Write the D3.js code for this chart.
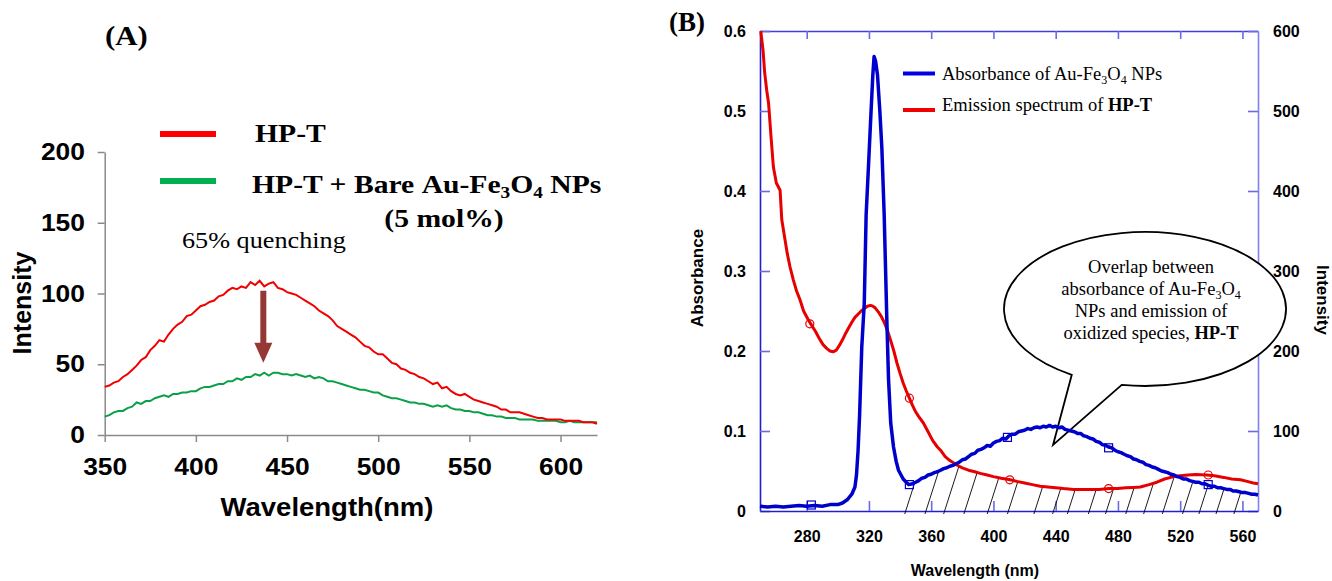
<!DOCTYPE html>
<html><head><meta charset="utf-8">
<script src="https://cdn.jsdelivr.net/npm/d3@7"></script>
<style>body{margin:0;background:#fff;overflow:hidden}</style>
</head><body>
<svg id="c" width="1332" height="581" xmlns="http://www.w3.org/2000/svg"></svg>
<script>
// ---------------- Panel A data ----------------
const aWavelength = [350,352.5,355,357.5,360,362.5,365,367.5,370,372.5,375,377.5,380,382.5,385,387.5,390,392.5,395,397.5,400,402.5,405,407.5,410,412.5,415,417.5,420,422.5,425,427.5,430,432.5,435,437.5,440,442.5,445,447.5,450,452.5,455,457.5,460,462.5,465,467.5,470,472.5,475,477.5,480,482.5,485,487.5,490,492.5,495,497.5,500,502.5,505,507.5,510,512.5,515,517.5,520,522.5,525,527.5,530,532.5,535,537.5,540,542.5,545,547.5,550,552.5,555,557.5,560,562.5,565,567.5,570,572.5,575,577.5,580,582.5,585,587.5,590,592.5,595,597.5,600,602.5,605,607.5,610,612.5,615,617.5,620];
const aHPT = [34,35,37,38,41,43,46,49,53,55, 60,63,67,66,71,75,78,80,84,85, 88,91,92,94,95,98,99,102,104,103, 105,104,108,106,109,105,107,108,104,103, 101,100,99,97,95,93,91,88,86,84, 81,77,75,73,71,69,66,63,62,59, 57,57,54,51,50,47,46,44,43,41, 40,38,36,37,33,34,31,29,28,29, 27,25,24,23,22,21,20,18,18,16, 16,16,15,14,13,12,12,11,11,11, 11,10,10,10,10,9,9,9,8];
const aHPTNP = [13,14,16,17,17,19,20,23,22,24, 24,26,27,28,27,29,29,30,30,31, 31,33,34,34,35,36,36,38,38,40, 39,41,41,43,42,44,42,44,44,43, 43,42,43,42,41,42,40,41,40,38, 38,37,36,35,34,33,32,32,31,30, 30,28,27,26,26,25,24,23,23,22, 22,21,20,21,20,21,19,18,18,17, 17,16,16,15,14,14,13,13,12,12, 12,11,11,11,11,10,10,10,10,10, 9,9,10,9,9,9,9,9,9];
const aTicksX = [350,400,450,500,550,600];
const aTicksY = [0,50,100,150,200];
const aArrow = {wl: 437, from: 102, to: 51};

// ---------------- Panel B data ----------------
const absWl = [250,255,260,265,270,275,280,285,290,295,300,303,306,309,311,312,313,314,315.4,317,318.2,319.8,321.3,322.5,323.3,324.3,325.5,327,328.3,329.8,331.5,332.6,334,335.8,337.5,339,342,345.5,348,350,352,354,356,358,360,362,364,366,368,370,372,374,376,378,380,382,384,386,388,390,392,394,396,398,400,402,404,406,408,410,412,414,416,418,420,422,424,426,428,430,432,434,436,438,440,442,444,446,448,450,452,454,456,458,460,462,464,466,468,470,472,474,476,478,480,482,484,486,488,490,492,494,496,498,500,502,504,506,508,510,512,514,516,518,520,522,524,526,528,530,532,534,536,538,540,542,544,546,548,550,552,554,556,558,560,562,564,566,568,570];
const absVal = [.006,.005,.006,.005,.006,.007,.006,.007,.006,.008,.008,.010,.014,.021,.030,.045,.075,.12,.205,.26,.37,.435,.497,.545,.568,.562,.545,.50,.454,.37,.239,.164,.11,.08,.062,.051,.040,.033,.034,.036,.038,.041,.042,.045,.046,.048,.049,.051,.053,.054,.056,.057,.059,.061,.064,.065,.068,.071,.072,.076,.077,.079,.082,.081,.085,.087,.088,.091,.090,.094,.096,.096,.099,.100,.101,.103,.102,.104,.105,.104,.106,.105,.107,.105,.106,.104,.105,.102,.101,.100,.099,.097,.097,.094,.093,.091,.090,.087,.086,.083,.082,.080,.079,.076,.074,.073,.071,.069,.068,.065,.064,.062,.061,.058,.057,.055,.054,.052,.050,.049,.048,.046,.045,.043,.042,.040,.040,.038,.037,.036,.036,.034,.034,.032,.031,.031,.029,.029,.028,.027,.027,.025,.025,.024,.023,.023,.022,.021,.021,.020];
const emWl = [250.5,252,253,254.3,255.5,257,258.6,260.5,262.9,264,266,267.5,269.3,271.4,273.5,275.7,278,281,283.2,285.5,288,290.5,293,295,297,299,301,303,305,307,309,311,313,315,317,319,321,322.5,324,326,328,330,332,334,336,338,340,342,344,346,348,350,352,355,358,361,364,366,369,372,376.5,380,384,388,391.5,396,400,405,410.8,415,420,425,430,435,440,445,451.5,457,462,468,474,480,485,490,494.4,500,505,510,515.8,520,525,530,537,542,548,553,558.7,563,567,570];
const emVal = [600,575,548,526,510,470,430,410,401,364,340,322,305,289,275,264,250,239,232,225,216,208,203,200,199,201,207,214,222,229,236,242,246,250,253,256,257,256,254,249,243,235,225,213,200,185,172,160,150,141,132,124,118,110,99,88,80,76,68,63,57.5,54,51,49,47,45,43,41,39,37,35,33,31,30,29,28,27,27,27,27,28,28,29,29.5,30,33,36,40,43,44,45,45.5,45,44,42,40,39,37,35,34];
const absMarkWl = [283,346,409,474,538];
const absMarkVal = [.0075,.033,.092,.079,.033];
const emMarkWl = [282,346,410.5,474,538];
const emMarkVal = [234,141,39,28,45];
const hatchWl = [343,356,368,381,396,409,426,438,447.5,461,472,485,496.5,508.5,521.5,532,543,554.5];
const bTicksX = [280,320,360,400,440,480,520,560];
const bTicksLeft = [0,0.1,0.2,0.3,0.4,0.5,0.6];
const bTicksRight = [0,100,200,300,400,500,600];
const bubble = {wl: 497.4, abs: 0.2525, rx: 141, ry: 77, angL: 121.3, angR: 99.5, tipWl: 438.3, tipAbs: 0.0825};

// ---------------- drawing ----------------
const svg = d3.select('#c');
const ARIAL = "'Liberation Sans', Arial, sans-serif";
const TIMES = "'Liberation Serif', 'Times New Roman', serif";

// appends "Au-Fe3O4" then the following text on the normal baseline
function feO(t, size, after){
  t.append('tspan').text('Au-Fe');
  t.append('tspan').attr('font-size', size*0.65).attr('dy', size*0.2).text('3');
  t.append('tspan').attr('dy', -size*0.2).text('O');
  t.append('tspan').attr('font-size', size*0.65).attr('dy', size*0.2).text('4');
  t.append('tspan').attr('dy', -size*0.2).text(after);
}

// ===== Panel A =====
const SX = 1.14;   // panel A text is horizontally wide in the reference
const SXA = 1.1;
const xA = d3.scaleLinear().domain([350,620]).range([104.7,597]);
const yA = d3.scaleLinear().domain([0,200]).range([435,152]);
const gA = svg.append('g');
const gray = '#8a8a8a';

const axA_x = gA.append('g').attr('transform','translate(0,435)')
  .call(d3.axisBottom(xA).tickValues(aTicksX).tickSize(7).tickPadding(16).tickSizeOuter(0));
const axA_y = gA.append('g').attr('transform','translate(104.7,0)')
  .call(d3.axisLeft(yA).tickValues(aTicksY).tickSize(7).tickPadding(11).tickSizeOuter(0));
[axA_x, axA_y].forEach(a=>{
  a.select('.domain').attr('stroke', gray).attr('stroke-width',1.5);
  a.selectAll('.tick line').attr('stroke', gray).attr('stroke-width',1.5);
  a.selectAll('.tick text').attr('fill','#000').attr('font-family',ARIAL).attr('font-weight','bold').attr('font-size',24)
    .attr('transform',`scale(${SXA},1)`);
});
gA.append('text').attr('transform',`translate(327,516) scale(${SXA},1)`).attr('text-anchor','middle')
  .attr('font-family',ARIAL).attr('font-weight','bold').attr('font-size',25).text('Wavelength(nm)');
gA.append('text').attr('transform','translate(31,303) rotate(-90)').attr('text-anchor','middle')
  .attr('font-family',ARIAL).attr('font-weight','bold').attr('font-size',25).text('Intensity');

const lineA = d3.line().x((d,i)=>xA(aWavelength[i])).y(d=>yA(d));
gA.append('path').datum(aHPTNP).attr('d',lineA).attr('fill','none').attr('stroke','#0aa04a').attr('stroke-width',2);
gA.append('path').datum(aHPT).attr('d',lineA).attr('fill','none').attr('stroke','#f00000').attr('stroke-width',2);

// arrow
{
  const x0 = xA(aArrow.wl), y0 = yA(aArrow.from), y1 = yA(aArrow.to);
  const hh = 20, hw = 9, sw = 3;
  gA.append('path').attr('fill','#953735')
    .attr('d',`M${x0-sw},${y0} L${x0+sw},${y0} L${x0+sw},${y1-hh} L${x0+hw},${y1-hh} L${x0},${y1} L${x0-hw},${y1-hh} L${x0-sw},${y1-hh} Z`);
}
const stretched = (x,y) => `translate(${x},${y}) scale(${SX},1)`;
gA.append('text').attr('transform',stretched(182,248)).attr('font-family',TIMES).attr('font-size',23).text('65% quenching');
// legend A
gA.append('text').attr('transform',stretched(105,45)).attr('font-family',TIMES).attr('font-weight','bold').attr('font-size',27).text('(A)');
gA.append('line').attr('x1',160).attr('x2',216).attr('y1',134).attr('y2',134).attr('stroke','#ff0000').attr('stroke-width',6);
gA.append('line').attr('x1',160).attr('x2',216).attr('y1',181).attr('y2',181).attr('stroke','#00b050').attr('stroke-width',6);
gA.append('text').attr('transform',stretched(255,142)).attr('font-family',TIMES).attr('font-weight','bold').attr('font-size',26).text('HP-T');
{
  const t = gA.append('text').attr('transform',stretched(252,193)).attr('font-family',TIMES).attr('font-weight','bold').attr('font-size',26);
  t.append('tspan').text('HP-T + Bare ');
  feO(t, 26, ' NPs');
}
gA.append('text').attr('transform',stretched(444,227)).attr('text-anchor','middle').attr('font-family',TIMES).attr('font-weight','bold').attr('font-size',26).text('(5 mol%)');

// ===== Panel B =====
const xB = d3.scaleLinear().domain([250,570]).range([760,1258]);
const yB = d3.scaleLinear().domain([0,0.6]).range([511,31]);
const yB2 = d3.scaleLinear().domain([0,600]).range([511,31]);
const gB = svg.append('g');
const blueDark = '#2020cc', blueLight = '#8080f0', tickBlue = '#6a6ae6';

function styleAx(a, domainColor, showText){
  a.select('.domain').attr('stroke', domainColor).attr('stroke-width',1.6);
  a.selectAll('.tick line').attr('stroke', tickBlue).attr('stroke-width',1.6);
  a.selectAll('.tick text').attr('fill','#000').attr('font-family',ARIAL).attr('font-weight','bold').attr('font-size',16);
  if(!showText) a.selectAll('.tick text').remove();
}
styleAx(gB.append('g').attr('transform','translate(0,31)').call(d3.axisTop(xB).tickValues(bTicksX).tickSize(-8).tickSizeOuter(0)), '#4040d8', false);
styleAx(gB.append('g').attr('transform','translate(1258,0)').call(d3.axisRight(yB2).tickValues(bTicksRight).tickSize(-10).tickPadding(15).tickSizeOuter(0)), blueLight, true);
styleAx(gB.append('g').attr('transform','translate(760,0)').call(d3.axisLeft(yB).tickValues(bTicksLeft).tickFormat(d=>d===0?'0':d3.format('.1f')(d)).tickSize(-10).tickPadding(14).tickSizeOuter(0)), blueDark, true);
styleAx(gB.append('g').attr('transform','translate(0,511)').call(d3.axisBottom(xB).tickValues(bTicksX).tickSize(-10).tickPadding(20).tickSizeOuter(0)), blueDark, true);

gB.append('text').attr('x',975).attr('y',576).attr('text-anchor','middle').attr('font-family',ARIAL).attr('font-weight','bold').attr('font-size',16).text('Wavelength (nm)');
gB.append('text').attr('transform','translate(703,278) rotate(-90)').attr('text-anchor','middle').attr('font-family',ARIAL).attr('font-weight','bold').attr('font-size',17).text('Absorbance');
gB.append('text').attr('transform','translate(1317,300) rotate(90)').attr('text-anchor','middle').attr('font-family',ARIAL).attr('font-weight','bold').attr('font-size',17).text('Intensity');
gB.append('text').attr('x',687).attr('y',31).attr('text-anchor','middle').attr('font-family',TIMES).attr('font-weight','bold').attr('font-size',27).text('(B)');

// callout bubble
{
  const cx = xB(bubble.wl), cy = yB(bubble.abs);
  const pL = [cx + bubble.rx*Math.cos(bubble.angL*Math.PI/180), cy + bubble.ry*Math.sin(bubble.angL*Math.PI/180)];
  const pR = [cx + bubble.rx*Math.cos(bubble.angR*Math.PI/180), cy + bubble.ry*Math.sin(bubble.angR*Math.PI/180)];
  const tip = [xB(bubble.tipWl), yB(bubble.tipAbs)];
  gB.append('path').attr('fill','#fff').attr('stroke','#000').attr('stroke-width',1.8)
    .attr('d',`M${pL[0]},${pL[1]} A${bubble.rx},${bubble.ry} 0 1 1 ${pR[0]},${pR[1]} L${tip[0]},${tip[1]} Z`);
  const fs = 18.5, tx = cx + 6, lines = cy - 42;
  const mk = (i)=> gB.append('text').attr('x',tx).attr('y',lines + i*21.7).attr('dy','0.35em').attr('text-anchor','middle').attr('font-family',TIMES).attr('font-size',fs);
  mk(0).text('Overlap between');
  { const t = mk(1); t.append('tspan').text('absorbance of '); feO(t, fs, ''); }
  mk(2).text('NPs and emission of');
  { const t = mk(3); t.append('tspan').text('oxidized species, '); t.append('tspan').attr('font-weight','bold').text('HP-T'); }
}

// hatch lines between curves and axis
{
  const blueAt = x => { const i = d3.bisectLeft(absWl, x); if(i<=0) return absVal[0]; if(i>=absWl.length) return absVal[absVal.length-1];
    const t = (x-absWl[i-1])/(absWl[i]-absWl[i-1]); return absVal[i-1]+t*(absVal[i]-absVal[i-1]); };
  const redAt = x => { const i = d3.bisectLeft(emWl, x); if(i<=0) return emVal[0]/1000; if(i>=emWl.length) return emVal[emVal.length-1]/1000;
    const t = (x-emWl[i-1])/(emWl[i]-emWl[i-1]); return (emVal[i-1]+t*(emVal[i]-emVal[i-1]))/1000; };
  const slope = 0.32;
  hatchWl.forEach(w=>{
    const xb = xB(w), yb = yB(0) + 3;
    let xt = xb, yt = yb;
    for(let k=0;k<8;k++){ const wl = xB.invert(xt); yt = yB(Math.min(blueAt(wl), redAt(wl))); xt = xb + slope*(yb-yt); }
    gB.append('line').attr('x1',xb).attr('y1',yb).attr('x2',xt).attr('y2',yt).attr('stroke','#000').attr('stroke-width',0.9);
  });
}

// curves
const lineAbs = d3.line().x((d,i)=>xB(absWl[i])).y(d=>yB(d));
const lineEm = d3.line().x((d,i)=>xB(emWl[i])).y(d=>yB2(d));
gB.append('path').datum(emVal).attr('d',lineEm).attr('fill','none').attr('stroke','#e60000').attr('stroke-width',3).attr('stroke-linejoin','round');
gB.append('path').datum(absVal).attr('d',lineAbs).attr('fill','none').attr('stroke','#0000cc').attr('stroke-width',3.5).attr('stroke-linejoin','round');
gB.selectAll('.emMark').data(emMarkVal).enter().append('circle')
  .attr('cx',(d,i)=>xB(emMarkWl[i])).attr('cy',d=>yB2(d)).attr('r',4).attr('fill','none').attr('stroke','#e60000').attr('stroke-width',1.2);
gB.selectAll('.absMark').data(absMarkVal).enter().append('rect')
  .attr('x',(d,i)=>xB(absMarkWl[i])-4).attr('y',d=>yB(d)-4).attr('width',8).attr('height',8).attr('fill','none').attr('stroke','#0000cc').attr('stroke-width',1.2);

// legend B
gB.append('line').attr('x1',903).attr('x2',935).attr('y1',73.5).attr('y2',73.5).attr('stroke','#0000e0').attr('stroke-width',4);
gB.append('line').attr('x1',903).attr('x2',935).attr('y1',110).attr('y2',110).attr('stroke','#f00000').attr('stroke-width',4);
{
  const t = gB.append('text').attr('x',942).attr('y',80).attr('font-family',TIMES).attr('font-size',18.5);
  t.append('tspan').text('Absorbance of '); feO(t, 18.5, ' NPs');
  const t2 = gB.append('text').attr('x',942).attr('y',111).attr('font-family',TIMES).attr('font-size',18.5);
  t2.append('tspan').text('Emission spectrum of '); t2.append('tspan').attr('font-weight','bold').text('HP-T');
}
</script>
</body></html>
